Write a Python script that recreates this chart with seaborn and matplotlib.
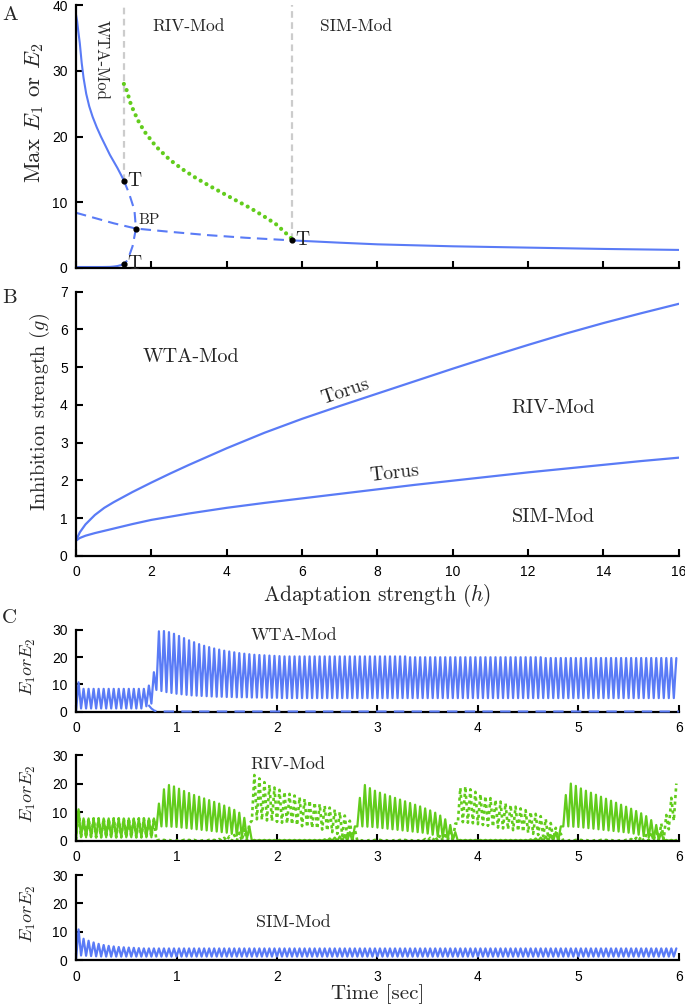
import numpy as np
import pandas as pd
import matplotlib
matplotlib.use("Agg")
import matplotlib.pyplot as plt
import seaborn as sns

# ---------------- data: panel A (bifurcation diagram) ----------------
wta_h = [0.0, 0.03, 0.06, 0.1, 0.15, 0.2, 0.27, 0.35, 0.44, 0.55, 0.66, 0.78, 0.9, 1.0, 1.1,
         1.2, 1.27]
wta_max = [38.5, 37.5, 36.0, 34.2, 31.2, 28.9, 26.5, 24.6, 23.0, 21.4, 20.0, 18.6, 17.2, 16.2,
           15.2, 14.1, 13.3]

low_h = [0.0, 0.7, 0.9, 1.0, 1.1, 1.2, 1.27]
low_max = [0.15, 0.15, 0.17, 0.22, 0.3, 0.45, 0.6]

fold_h = [1.27, 1.41, 1.55, 1.59, 1.5, 1.37, 1.27]
fold_max = [13.3, 11.3, 8.8, 6.0, 3.3, 1.2, 0.6]

sym_h = [0.0, 0.5, 1.0, 1.59, 2.5, 3.5, 4.5, 5.73]
sym_max = [8.4, 7.6, 6.8, 6.0, 5.5, 5.0, 4.6, 4.2]

sim_h = [5.73, 7.0, 8.0, 10.0, 12.0, 14.0, 16.0]
sim_max = [4.2, 3.85, 3.6, 3.3, 3.1, 2.9, 2.75]

riv_h = [1.27, 1.33, 1.46, 1.64, 1.81, 2.12, 2.48, 2.83, 3.18, 3.54, 3.89, 4.24, 4.6, 4.95,
         5.3, 5.57, 5.73]
riv_max = [28.0, 27.3, 24.8, 22.5, 20.8, 18.5, 16.5, 15.0, 13.7, 12.5, 11.4, 10.3, 9.2, 8.0,
           6.7, 5.3, 4.4]

bif_h = [1.27, 1.59, 1.27, 5.73]
bif_val = [13.3, 6.0, 0.6, 4.2]
bif_labels = ["T", "BP", "T", "T"]

# ---------------- data: panel B (two-parameter curves) ----------------
upper_h = [0, 0.1, 0.25, 0.5, 0.75, 1, 1.5, 2, 2.5, 3, 3.5, 4, 5, 6, 7, 8, 9, 10, 11, 12, 13,
           14, 15, 16]
upper_g = [0.4, 0.62, 0.83, 1.08, 1.27, 1.42, 1.69, 1.94, 2.18, 2.41, 2.63, 2.85, 3.26, 3.63,
           3.97, 4.30, 4.63, 4.96, 5.28, 5.59, 5.89, 6.17, 6.43, 6.68]
lower_h = [0, 0.1, 0.25, 0.5, 0.75, 1, 1.5, 2, 3, 4, 5, 6, 7, 8, 9, 10, 11, 12, 13, 14, 15, 16]
lower_g = [0.4, 0.47, 0.53, 0.6, 0.66, 0.72, 0.84, 0.95, 1.12, 1.27, 1.40, 1.52, 1.64, 1.76,
           1.88, 1.99, 2.10, 2.21, 2.31, 2.41, 2.51, 2.6]

# ---------------- data: panel C (time series, one trough/peak pair per cycle) ----------------
CYCLES_PER_SEC = 20

wta_e1_peaks = ([10.8] + [8.4] * 13 + [9.6, 14.5]
                + [29.5, 29.6, 29.2, 28.6, 27.8, 27.0, 26.2, 25.5, 24.8, 24.2, 23.7, 23.2, 22.8,
                   22.4, 22.1, 21.8, 21.5, 21.3, 21.1, 20.9, 20.8, 20.7, 20.6, 20.5, 20.4]
                + [20.3] * 25 + [20.0] * 27 + [19.7] * 27)
wta_e1_troughs = ([0.2] + [1.2] * 13 + [2.0, 3.0]
                  + [8.0, 7.6, 7.2, 6.9, 6.6, 6.4, 6.2, 6.0, 5.9, 5.8, 5.7, 5.6, 5.5, 5.5,
                     5.4, 5.4, 5.3, 5.3, 5.3, 5.2, 5.2, 5.2, 5.1, 5.1, 5.1]
                  + [5.0] * 79)
wta_e2_t = [0.72, 0.75, 0.78, 0.82, 6.0]
wta_e2 = [2.5, 1.2, 0.4, 0.1, 0.1]

riv_e1_peaks = ([11.0] + [7.8] * 15
                + [13.0, 18.0, 19.5, 19.0, 18.2, 17.4, 16.7, 16.0, 15.4, 14.8, 14.2, 13.6, 13.0,
                   12.3, 11.6, 10.8, 9.8, 8.0, 5.0]
                + [0.3] * 14 + [0.5, 0.8, 1.1, 1.5, 2.0, 3.0, 5.0]
                + [15.0, 19.5, 18.4, 17.5, 16.8, 16.2, 15.6, 15.0, 14.4, 13.8, 13.2, 12.6, 12.0,
                   11.3, 10.6, 9.8, 8.8, 7.5, 5.5, 3.0]
                + [0.3] * 14 + [0.5, 0.8, 1.1, 1.5, 2.0, 3.0, 5.0]
                + [16.0, 20.0, 19.2, 18.3, 17.5, 16.8, 16.1, 15.4, 14.7, 14.0, 13.3, 12.6, 11.9,
                   11.2, 10.4, 9.6, 8.6, 7.2, 5.5, 3.0]
                + [0.3, 0.3, 0.3])
riv_e1_troughs = ([0.2] + [1.2] * 15
                  + [4.0, 5.0, 5.0, 4.9, 4.8, 4.6, 4.4, 4.2, 4.0, 3.8, 3.6, 3.4, 3.2, 3.0, 2.8,
                     2.4, 1.8, 1.2, 0.5]
                  + [0.0] * 21
                  + [5.0, 5.0, 4.9, 4.8, 4.6, 4.4, 4.2, 4.0, 3.8, 3.6, 3.4, 3.2, 3.0, 2.8, 2.5,
                     2.1, 1.6, 1.0, 0.5, 0.2]
                  + [0.0] * 21
                  + [5.0, 5.0, 4.9, 4.8, 4.6, 4.4, 4.2, 4.0, 3.8, 3.6, 3.4, 3.2, 3.0, 2.8, 2.5,
                     2.1, 1.6, 1.0, 0.5, 0.2]
                  + [0.0] * 3)

riv_e2_peaks = ([11.0] + [7.8] * 15
                + [0.3] * 12 + [0.6, 1.0, 1.5, 2.0, 2.8, 4.0, 6.0]
                + [23.0, 21.8, 20.5, 19.5, 18.6, 17.8, 17.1, 16.4, 15.8, 15.2, 14.6, 14.0, 13.4,
                   12.8, 12.2, 11.6, 10.9, 10.0, 8.8, 7.0, 4.0]
                + [0.3] * 13 + [0.6, 1.0, 1.5, 2.0, 2.8, 4.0, 6.0]
                + [18.5, 19.0, 18.0, 17.1, 16.3, 15.6, 14.9, 14.3, 13.7, 13.1, 12.5, 11.9, 11.3,
                   10.7, 10.1, 9.4, 8.6, 7.6, 6.2, 4.5, 2.5]
                + [0.3] * 13 + [0.6, 1.0, 1.5, 2.0, 2.8, 4.0, 6.0]
                + [9.0, 15.0, 20.0])
riv_e2_troughs = ([0.2] + [1.2] * 15
                  + [0.0] * 19
                  + [7.0, 7.5, 7.3, 7.1, 6.9, 6.6, 6.3, 6.0, 5.7, 5.4, 5.1, 4.8, 4.5, 4.2, 3.9,
                     3.5, 3.0, 2.4, 1.7, 1.0, 0.4]
                  + [0.0] * 20
                  + [6.0, 6.5, 6.3, 6.1, 5.8, 5.5, 5.2, 4.9, 4.6, 4.3, 4.0, 3.7, 3.4, 3.1, 2.8,
                     2.4, 2.0, 1.5, 1.0, 0.6, 0.3]
                  + [0.0] * 20
                  + [0.5, 4.0, 7.0])

sim_e_peaks = [10.8, 7.5, 6.8, 6.2, 5.7, 5.3, 5.0, 4.8, 4.6, 4.5, 4.4, 4.3, 4.2] + [4.1] * 107
sim_e_troughs = [0.2, 1.6, 1.5, 1.4, 1.3, 1.25] + [1.2] * 114

BLUE = "#5a7bf6"
GREEN = "#62cc1c"
SERIF = "cmr10"


def zigzag(troughs, peaks):
    y = np.empty(2 * len(peaks))
    y[0::2] = troughs
    y[1::2] = peaks
    t = np.arange(len(y)) / (2 * CYCLES_PER_SEC)
    return pd.DataFrame({"t": t, "E": y})


sns.set_style("ticks")
plt.rcParams["font.family"] = ["Liberation Sans", "DejaVu Sans"]
plt.rcParams["mathtext.fontset"] = "cm"
plt.rcParams["axes.unicode_minus"] = False


def style_axis(ax):
    sns.despine(ax=ax)
    for s in ["left", "bottom"]:
        ax.spines[s].set_linewidth(1.6)
        ax.spines[s].set_color("black")
    ax.tick_params(direction="in", length=5, width=1.5, labelsize=10, colors="black")
    ax.tick_params(axis="x", pad=7)
    ax.tick_params(axis="y", pad=6)


fig = plt.figure(figsize=(6.85, 10.06), dpi=100)

# ---------------- Panel A ----------------
axA = fig.add_axes([0.111, 0.7336, 0.880, 0.2614])
sns.lineplot(x=wta_h, y=wta_max, ax=axA, color=BLUE, lw=1.5, sort=False, estimator=None)
sns.lineplot(x=low_h, y=low_max, ax=axA, color=BLUE, lw=1.5, sort=False, estimator=None)
sns.lineplot(x=sim_h, y=sim_max, ax=axA, color=BLUE, lw=1.5, sort=False, estimator=None)
sns.lineplot(x=fold_h, y=fold_max, ax=axA, color=BLUE, lw=1.5, sort=False, estimator=None,
             linestyle=(0, (5, 3)))
sns.lineplot(x=sym_h, y=sym_max, ax=axA, color=BLUE, lw=1.5, sort=False, estimator=None,
             linestyle=(0, (5, 3)))
sns.lineplot(x=riv_h, y=riv_max, ax=axA, color=GREEN, lw=3, sort=False, estimator=None,
             linestyle=(0, (0.01, 1.6)), dash_capstyle="round")
axA.vlines([bif_h[0], bif_h[3]], ymin=[bif_val[0], bif_val[3]], ymax=40,
           colors="#cccccc", linestyles=(0, (3, 2)), lw=1.6, zorder=1)
axA.scatter(bif_h, bif_val, s=12, color="black", zorder=5)
for h, v, lab in zip(bif_h, bif_val, bif_labels):
    if lab == "BP":
        axA.text(h + 0.06, v + 1.3, lab, family=SERIF, fontsize=11, ha="left", va="center")
    else:
        axA.text(h + 0.1, v, lab, family=SERIF, fontsize=14, ha="left", va="center")
axA.text(0.66, 31.7, "WTA-Mod", family=SERIF, fontsize=12, rotation=-90, ha="center", va="center")
axA.text(2.98, 36.7, "RIV-Mod", family=SERIF, fontsize=12.5, ha="center", va="center")
axA.text(7.44, 36.7, "SIM-Mod", family=SERIF, fontsize=12.5, ha="center", va="center")
axA.set_xlim(0, 16)
axA.set_ylim(0, 40)
axA.set_xticks(np.arange(0, 17, 2))
axA.set_xticklabels([])
axA.set_yticks([0, 10, 20, 30, 40])
axA.set_ylabel("Max $E_1$ or $E_2$", family=SERIF, fontsize=16.5)
axA.yaxis.set_label_coords(-0.05, 0.59)
style_axis(axA)

# ---------------- Panel B ----------------
axB = fig.add_axes([0.111, 0.4476, 0.880, 0.2624])
sns.lineplot(x=upper_h, y=upper_g, ax=axB, color=BLUE, lw=1.6, sort=False, estimator=None)
sns.lineplot(x=lower_h, y=lower_g, ax=axB, color=BLUE, lw=1.6, sort=False, estimator=None)
axB.text(3.05, 5.26, "WTA-Mod", family=SERIF, fontsize=14.5, ha="center", va="center")
axB.text(12.66, 3.91, "RIV-Mod", family=SERIF, fontsize=14.5, ha="center", va="center")
axB.text(12.66, 1.02, "SIM-Mod", family=SERIF, fontsize=14.5, ha="center", va="center")
axB.text(7.14, 4.35, "Torus", family=SERIF, fontsize=14, rotation=18.5, ha="center", va="center",
         rotation_mode="anchor")
axB.text(8.46, 2.19, "Torus", family=SERIF, fontsize=14, rotation=6.5, ha="center", va="center",
         rotation_mode="anchor")
axB.set_xlim(0, 16)
axB.set_ylim(0, 7)
axB.set_xticks(np.arange(0, 17, 2))
axB.set_yticks(np.arange(0, 8, 1))
axB.set_xlabel("Adaptation strength ($h$)", family=SERIF, fontsize=15.5, labelpad=2)
axB.set_ylabel("Inhibition strength ($g$)", family=SERIF, fontsize=14.5)
axB.yaxis.set_label_coords(-0.04, 0.544)
style_axis(axB)

# ---------------- Panel C ----------------
rects = [[0.111, 0.2925, 0.880, 0.0813],
         [0.111, 0.1643, 0.880, 0.0852],
         [0.111, 0.0457, 0.880, 0.0845]]
axC = [fig.add_axes(r) for r in rects]

wta_df = zigzag(wta_e1_troughs, wta_e1_peaks)
sns.lineplot(data=wta_df, x="t", y="E", ax=axC[0], color=BLUE, lw=1.6, sort=False, estimator=None)
sns.lineplot(x=wta_e2_t, y=wta_e2, ax=axC[0], color=BLUE, lw=1.5, sort=False, estimator=None,
             linestyle=(0, (5, 3.5)), zorder=4, clip_on=False)

riv2_df = zigzag(riv_e2_troughs, riv_e2_peaks)
riv1_df = zigzag(riv_e1_troughs, riv_e1_peaks)
sns.lineplot(data=riv2_df, x="t", y="E", ax=axC[1], color=GREEN, lw=1.9, sort=False,
             estimator=None, linestyle=(0, (1.2, 1.3)))
sns.lineplot(data=riv1_df, x="t", y="E", ax=axC[1], color=GREEN, lw=1.6, sort=False,
             estimator=None)

sim_df = zigzag(sim_e_troughs, sim_e_peaks)
sns.lineplot(data=sim_df, x="t", y="E", ax=axC[2], color=BLUE, lw=1.6, sort=False, estimator=None)

panel_c_titles = ["WTA-Mod", "RIV-Mod", "SIM-Mod"]
title_pos = [(2.17, 28.2), (2.11, 26.8), (2.16, 13.2)]
for ax, title, (tx, ty) in zip(axC, panel_c_titles, title_pos):
    ax.text(tx, ty, title, family=SERIF, fontsize=13, ha="center", va="center")
    ax.set_xlim(0, 6)
    ax.set_ylim(0, 30)
    ax.set_xticks(np.arange(0, 7, 1))
    ax.set_yticks([0, 10, 20, 30])
    ax.set_xlabel("")
    ax.set_ylabel("$E_1 or E_2$", fontsize=13)
    ax.yaxis.set_label_coords(-0.063, 0.55)
    style_axis(ax)
axC[2].set_xlabel("Time [sec]", family=SERIF, fontsize=15, labelpad=0)

fig.text(0.003, 0.985, "A", family=SERIF, fontsize=15, va="center")
fig.text(0.003, 0.704, "B", family=SERIF, fontsize=15, va="center")
fig.text(0.003, 0.386, "C", family=SERIF, fontsize=15, va="center")

fig.savefig("out.png", dpi=100)
